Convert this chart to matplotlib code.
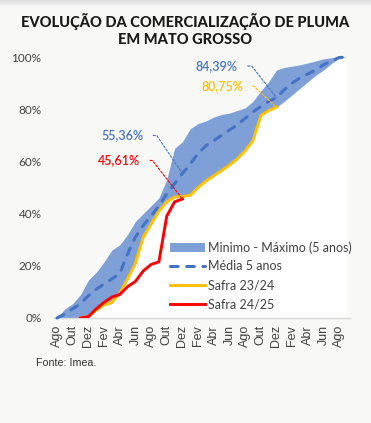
import numpy as np
import matplotlib.pyplot as plt

# ---------------------------------------------------------------
# DATA (% comercializado, mensal, Ago -> Set, 38 meses)
# ---------------------------------------------------------------
months = ["Ago", "Set", "Out", "Nov", "Dez", "Jan",
          "Fev", "Mar", "Abr", "Mai", "Jun", "Jul"]
month_labels = [months[i % 12] for i in range(38)]

maximo = [0, 3.5, 5.5, 9, 14.5, 17.5, 21.5, 26, 28, 32,
          37, 40, 43, 46, 53, 65, 67.5, 72.5, 74.5, 75.5,
          77, 78, 78.5, 79.5, 80.5, 83, 87, 90.5, 95, 96,
          96.5, 97, 97.7, 98.5, 99.3, 99.7, 100, 100]
minimo = [0, 0, 0, 0, 0.5, 3, 5, 5.5, 9.5, 15,
          21, 31, 36, 41, 44.5, 46.4, 46.6, 47, 50, 52.5,
          54.5, 56.5, 58.6, 61, 64, 68, 77.5, 79.5, 80.75, 83,
          85.5, 88, 90.5, 93, 95, 97.5, 99.5, 100]
media = [0, 1.5, 3.5, 5.5, 8.5, 11, 13, 15, 17, 24.5,
         31, 35.5, 39, 43, 47.5, 51.5, 55.36, 59, 63, 66,
         68, 70, 72, 74, 76.5, 79, 81, 83, 84.39, 87.5,
         90, 92, 93.5, 95, 97, 98.5, 99.8, 100]
nan = np.nan
safra_2324 = [nan, nan, nan, 0, 0.5, 3, 5, 6, 9.5, 15,
              21, 31, 36, 41, 44.5, 46.4, 46.6, 47, 50, 52.5,
              54.5, 56.5, 58.6, 61, 64, 68, 77.5, 79.5, 80.75] + [nan] * 9
safra_2425 = [nan, nan, nan, 0, 0.5, 3.5, 6, 8, 9, 12,
              14, 18, 20.5, 21.5, 39, 44.5, 45.61] + [nan] * 21

x = np.arange(len(month_labels))

# ---------------------------------------------------------------
# FIGURE
# ---------------------------------------------------------------
BG = "#f8f8f6"
BAND = "#7fa0d7"
BLUE = "#4472c4"
YELLOW = "#ffc000"
RED = "#ff0000"
GREY = "#404040"

fig = plt.figure(figsize=(3.71, 4.23), dpi=100, facecolor=BG)

# soft shadow along the top edge of the card
shadow = fig.add_axes([0, 1 - 7 / 423, 1, 7 / 423])
shadow.imshow(np.linspace(0.86, 0.97, 20).reshape(-1, 1), cmap="gray",
              vmin=0, vmax=1, aspect="auto", extent=(0, 1, 0, 1))
shadow.axis("off")

ax = fig.add_axes([54 / 371, 1 - 318 / 423, 296 / 371, 261 / 423])
ax.set_facecolor("none")

ax.fill_between(x, 0, minimo, color="white", lw=0, zorder=1)
ax.fill_between(x, minimo, maximo, color=BAND, lw=0, zorder=2,
                label="Minimo - Máximo (5 anos)")
ax.plot(x, media, color=BLUE, lw=2.2, dashes=(2.5, 2.8),
        dash_capstyle="round", zorder=3, clip_on=False, label="Média 5 anos")
ax.plot(x, safra_2324, color=YELLOW, lw=2.1, zorder=4, label="Safra 23/24")
ax.plot(x, safra_2425, color=RED, lw=2.1, zorder=5, label="Safra 24/25")

px = 290 / 37
ax.set_xlim(-3 / px, 37 + 3 / px)
ax.set_ylim(0, 100)

for s in ["top", "right", "left"]:
    ax.spines[s].set_visible(False)
ax.spines["bottom"].set_color("#d9d9d9")
ax.spines["bottom"].set_linewidth(1)

ax.set_yticks(range(0, 101, 20))
ax.set_yticklabels([f"{v}%" for v in range(0, 101, 20)],
                   fontsize=8.5, color=GREY, family="Lato")
ax.set_xticks(x[::2])
ax.set_xticklabels(month_labels[::2], rotation=90, fontsize=9,
                   color=GREY, family="Liberation Sans")
ax.tick_params(axis="y", length=0, pad=9)
ax.tick_params(axis="x", length=0, pad=5)

# ---------------------------------------------------------------
# ANNOTATIONS
# ---------------------------------------------------------------
def label(idx, val, text, color, off, angle):
    ax.annotate(text, xy=(idx, val), xytext=off, textcoords="offset pixels",
                ha="right", va="center", color=color, fontsize=9,
                family="Lato", fontweight="semibold", zorder=6,
                arrowprops=dict(arrowstyle="-", color=color, lw=0.8,
                                linestyle=(0, (2, 1.6)), relpos=(1, 0.5),
                                shrinkA=5, shrinkB=0,
                                connectionstyle=f"angle,angleA=0,angleB={angle},rad=0"))

label(16, media[16], "55,36%", BLUE, (-39, 38), 124)
label(16, safra_2425[16], "45,61%", RED, (-42, 38.5), 128)
label(28, media[28], "84,39%", BLUE, (-38.5, 31.7), 128)
label(28, safra_2324[28], "80,75%", YELLOW, (-33.5, 21), 137)

leg = ax.legend(loc="upper left", bbox_to_anchor=(170 / 371, 1 - 241 / 423),
                bbox_transform=fig.transFigure, frameon=False,
                handlelength=2.8, handletextpad=0.25, labelspacing=0.55,
                borderaxespad=0, borderpad=0,
                prop={"family": "Lato", "size": 9})
for t in leg.get_texts():
    t.set_color(GREY)

# ---------------------------------------------------------------
# TITLE / SOURCE
# ---------------------------------------------------------------
fig.text(185 / 371, 1 - 22 / 423, "EVOLUÇÃO DA COMERCIALIZAÇÃO DE PLUMA",
         ha="center", va="center", fontsize=10.5, fontweight="black",
         family="Lato", color="#1a1a1a")
fig.text(185 / 371, 1 - 40 / 423, "EM MATO GROSSO",
         ha="center", va="center", fontsize=10.5, fontweight="black",
         family="Lato", color="#1a1a1a")
fig.text(36 / 371, 1 - 363 / 423, "Fonte: Imea.", ha="left", va="center",
         fontsize=7.7, family="Liberation Sans", color="#333333")

fig.savefig("out.png", dpi=100, facecolor=BG)
